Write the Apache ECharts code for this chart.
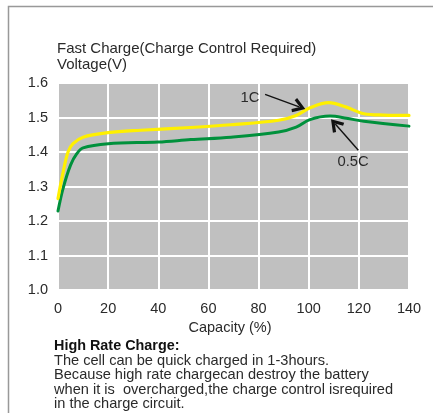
<!DOCTYPE html>
<html>
<head>
<meta charset="utf-8">
<script src="https://cdn.jsdelivr.net/npm/echarts@6/dist/echarts.min.js"></script>
<style>
html,body{margin:0;padding:0;background:#fff;}
#c{width:433px;height:413px;}
</style>
</head>
<body>
<div id="c"></div>
<script>
// ---- data ----
var xTicks = [0, 20, 40, 60, 80, 100, 120, 140];
var yTicks = [1.0, 1.1, 1.2, 1.3, 1.4, 1.5, 1.6];

var cap1C = [0, 2, 4, 6, 10, 20, 33, 53, 69, 88, 95, 100.5, 108, 115, 122, 130, 140];
var volt1C = [1.265, 1.34, 1.40, 1.424, 1.443, 1.456, 1.463, 1.471, 1.479, 1.492, 1.506, 1.528, 1.543, 1.530, 1.511, 1.507, 1.506];

var cap05C = [0, 2, 5, 7.5, 10, 20, 40, 53, 69, 88, 95, 100.5, 108.5, 115, 122, 140];
var volt05C = [1.229, 1.294, 1.362, 1.395, 1.412, 1.424, 1.429, 1.436, 1.443, 1.458, 1.472, 1.494, 1.504, 1.498, 1.489, 1.475];

var seriesNames = ['1C', '0.5C'];
// annotation anchors (data coords): label point, arrow start, arrow tip
var label1C = [76.6, 1.558], arrow1CFrom = [82.6, 1.567], arrow1CTo = [96.2, 1.531];
var label05C = [117.7, 1.371], arrow05CFrom = [119.8, 1.405], arrow05CTo = [110.6, 1.481];

var titleText = 'Fast Charge(Charge Control Required)';
var yName = 'Voltage(V)';
var xName = 'Capacity (%)';
var noteHead = 'High Rate Charge:';
var noteLines = [
  'The cell can be quick charged in 1-3hours.',
  'Because high rate chargecan destroy the battery',
  'when it is  overcharged,the charge control isrequired',
  'in the charge circuit.'
];

// ---- build ----
function pairs(xs, ys) { return xs.map(function (x, i) { return [x, ys[i]]; }); }
var FONT = "'Liberation Sans', Arial, sans-serif";
var TXT = '#2a2a2a';
var chevron = 'path://M5,0 L10,8.8 L8.1,10 L5,4.4 L1.9,10 L0,8.8 Z';

function arrowLine(from, to) {
  return {
    silent: true,
    symbol: ['none', chevron],
    symbolSize: [15, 13],
    lineStyle: { color: '#111', width: 1.4, type: 'solid' },
    itemStyle: { color: '#111' },
    label: { show: false },
    emphasis: { disabled: true },
    animation: false,
    data: [[{ coord: from }, { coord: to }]]
  };
}
function textPoint(pos, txt) {
  return {
    silent: true,
    symbol: 'circle',
    symbolSize: 0,
    animation: false,
    label: { show: true, position: 'inside', formatter: txt, color: TXT, fontSize: 14.8, fontFamily: FONT },
    data: [{ coord: pos, value: txt }]
  };
}

var chart = echarts.init(document.getElementById('c'), null, { renderer: 'canvas' });

var noteGraphics = [{
  type: 'text', left: 54, top: 339,
  style: { text: noteHead, font: 'bold 14.4px ' + FONT, fill: '#111' }
}];
noteLines.forEach(function (t, i) {
  noteGraphics.push({
    type: 'text', left: 54, top: 353 + i * 14.6,
    style: { text: t, font: '14.6px ' + FONT, fill: TXT }
  });
});

chart.setOption({
  animation: false,
  backgroundColor: '#fff',
  title: [
    { text: titleText, left: 57, top: 41, padding: 0,
      textStyle: { fontSize: 15, fontWeight: 'normal', color: TXT, fontFamily: FONT } },
    { text: yName, left: 57, top: 57, padding: 0,
      textStyle: { fontSize: 15, fontWeight: 'normal', color: TXT, fontFamily: FONT } }
  ],
  grid: {
    left: 58, right: 24, top: 83, bottom: 123,
    show: true, backgroundColor: '#c0c0c0', borderWidth: 0,
    outerBoundsMode: 'none', containLabel: false
  },
  xAxis: {
    type: 'value', min: xTicks[0], max: xTicks[xTicks.length - 1], interval: 20,
    name: xName, nameLocation: 'middle', nameGap: 28,
    nameTextStyle: { fontSize: 14.5, color: TXT, fontFamily: FONT, padding: [0, 7, 0, 0] },
    axisLine: { show: false }, axisTick: { show: false },
    axisLabel: { fontSize: 14.5, color: TXT, fontFamily: FONT, margin: 11 },
    splitLine: { show: true, lineStyle: { color: '#fff', width: 2 } }
  },
  yAxis: {
    type: 'value', min: yTicks[0], max: yTicks[yTicks.length - 1], interval: 0.1,
    axisLine: { show: false }, axisTick: { show: false },
    axisLabel: { fontSize: 14.5, color: TXT, fontFamily: FONT, margin: 10,
      formatter: function (v) { return v.toFixed(1); } },
    splitLine: { show: true, lineStyle: { color: '#fff', width: 2 } }
  },
  series: [
    {
      name: seriesNames[0], type: 'line', data: pairs(cap1C, volt1C),
      smooth: 0.35, showSymbol: false, symbol: 'none',
      lineStyle: { color: '#fff000', width: 3.2, cap: 'round', join: 'round' }, z: 3,
      markLine: arrowLine(arrow1CFrom, arrow1CTo),
      markPoint: textPoint(label1C, seriesNames[0])
    },
    {
      name: seriesNames[1], type: 'line', data: pairs(cap05C, volt05C),
      smooth: 0.35, showSymbol: false, symbol: 'none',
      lineStyle: { color: '#00913c', width: 3, cap: 'round', join: 'round' }, z: 2,
      markLine: arrowLine(arrow05CFrom, arrow05CTo),
      markPoint: textPoint(label05C, seriesNames[1])
    }
  ],
  graphic: [
    { type: 'rect', shape: { x: 8.5, y: 6.5, width: 600, height: 600 },
      style: { fill: 'none', stroke: '#999', lineWidth: 1.5 }, silent: true }
  ].concat(noteGraphics)
});
</script>
</body>
</html>
